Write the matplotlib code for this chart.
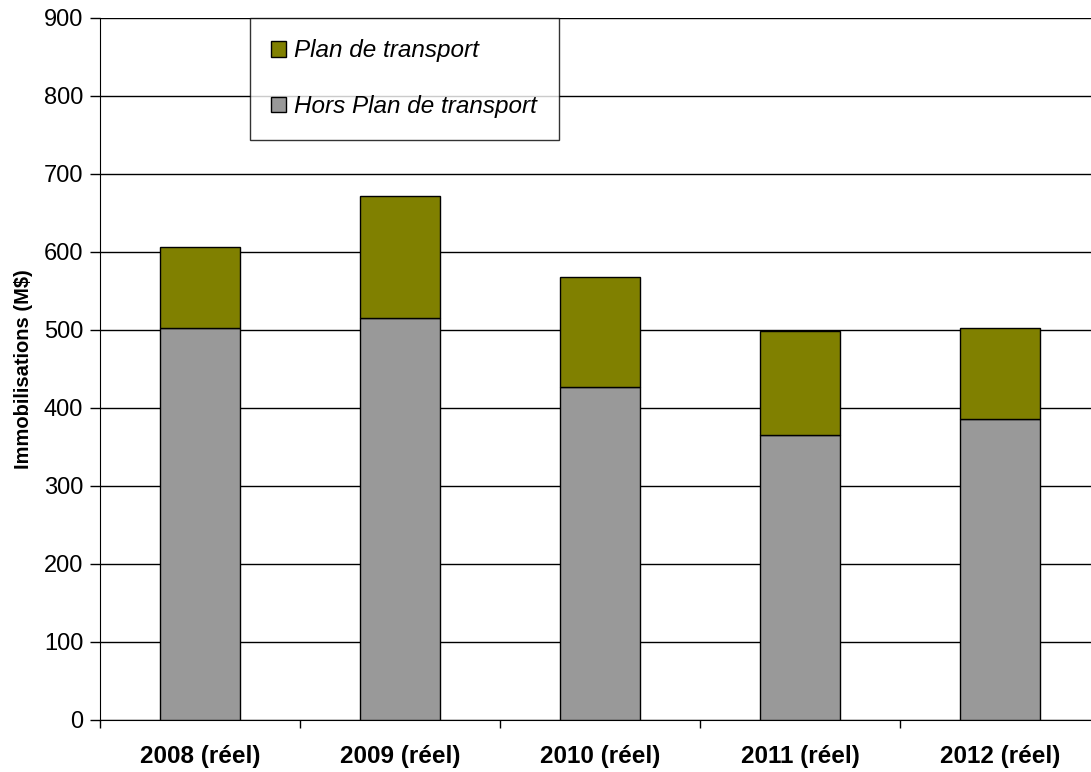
import matplotlib.pyplot as plt
from matplotlib.patches import Patch
from matplotlib.ticker import FixedLocator, NullFormatter

plt.rcParams['font.family'] = ['Liberation Sans', 'DejaVu Sans']

categories = ['2008 (réel)', '2009 (réel)', '2010 (réel)', '2011 (réel)', '2012 (réel)']
hors_plan = [503, 516, 427, 365, 386]
plan = [104, 156, 141, 134, 116]

olive = '#808000'
gris = '#999999'

fig = plt.figure(figsize=(10.91, 7.72), dpi=100)
ax = fig.add_axes([100 / 1091, 52 / 772, 1000 / 1091, 702 / 772])

x = list(range(len(categories)))
ax.bar(x, hors_plan, width=0.4, color=gris, edgecolor='black', linewidth=1, zorder=3)
ax.bar(x, plan, width=0.4, bottom=hors_plan, color=olive, edgecolor='black', linewidth=1, zorder=3)

ax.set_xlim(-0.5, 4.5)
ax.set_ylim(0, 900)
ax.set_yticks(range(0, 901, 100))
ax.yaxis.grid(True, color='black', linewidth=1, zorder=0)
ax.tick_params(axis='y', labelsize=17, direction='out', length=7, width=1, pad=5)

ax.set_xticks(x)
ax.set_xticklabels(categories, fontsize=17.5, fontweight='bold')
ax.tick_params(axis='x', which='major', length=0, pad=18)
ax.xaxis.set_minor_locator(FixedLocator([i + 0.5 for i in range(-1, 5)]))
ax.xaxis.set_minor_formatter(NullFormatter())
ax.tick_params(axis='x', which='minor', direction='out', length=6, width=1)

ax.spines['top'].set_visible(False)
ax.spines['right'].set_visible(False)
ax.spines['left'].set_color('black')
ax.spines['bottom'].set_color('black')

ax.set_ylabel('Immobilisations (M$)', fontsize=14.5, fontweight='bold', labelpad=8)

handles = [Patch(facecolor=olive, edgecolor='black'), Patch(facecolor=gris, edgecolor='black')]
leg = fig.legend(handles, ['Plan de transport', 'Hors Plan de transport'],
                 loc='upper left', bbox_to_anchor=(250 / 1091, 1 - 18 / 772),
                 prop={'size': 17.5, 'style': 'italic'}, frameon=True, fancybox=False,
                 edgecolor='black', handlelength=0.6, handleheight=0.6, handletextpad=0.35,
                 labelspacing=1.35, borderpad=0.88, borderaxespad=0)
leg.get_frame().set_linewidth(1)

fig.savefig('out.png', dpi=100)
